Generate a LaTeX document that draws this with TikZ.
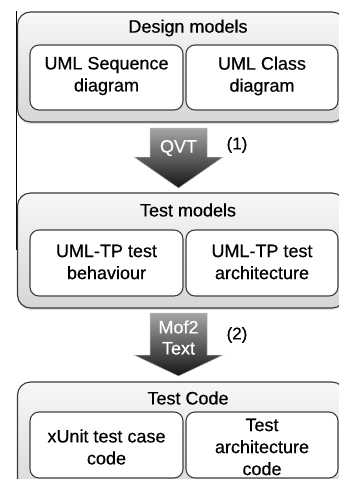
\documentclass[tikz,border=0pt]{standalone}
\usepackage{fontspec}
\setmainfont{Liberation Sans}[FakeBold=0.45]
\usetikzlibrary{shadows}
\tikzset{
  groupbox/.style={draw=gray!45!black, line width=1.1pt, rounded corners=13pt,
    top color=gray!6, bottom color=gray!32,
    drop shadow={opacity=0.25, shadow xshift=0pt, shadow yshift=-2pt}},
  modelbox/.style={draw=gray!50!black, line width=1.1pt, rounded corners=9pt,
    fill=white, align=center, inner sep=0pt},
  title/.style={font=\fontsize{18}{22}\selectfont},
  bodytext/.style={font=\fontsize{18}{22}\selectfont, align=center},
  flowarrow/.style={top color=gray!70, bottom color=black!92, draw=gray!55, line width=0.5pt},
  arrowtext/.style={text=white, font=\fontsize{18}{21}\selectfont, align=center},
  steplabel/.style={font=\fontsize{17}{20}\selectfont}
}
\begin{document}
\begin{tikzpicture}[x=1pt,y=-1pt]
\useasboundingbox (0,0) rectangle (339,479);
\clip (0,0) rectangle (339,479);

% margin rule on the left
\coordinate (ruletop) at (16,11);
\coordinate (rulebot) at (16,250);
\draw[line width=1pt] (ruletop) -- (rulebot);

% Design models
\node[groupbox, minimum width=327.5pt, minimum height=110pt] (design) at (181.25,67) {};
\node[title] (designT) at (188,28) {Design models};
\node[modelbox, minimum width=153pt, minimum height=65pt] (seq) at (106.5,77.5) {};
\node[bodytext] (seqT) at (106.5,76) {UML Sequence\\diagram};
\node[modelbox, minimum width=152pt, minimum height=65pt] (cls) at (262,77.5) {};
\node[bodytext] (clsT) at (262,76) {UML Class\\diagram};

% Test models
\node[groupbox, minimum width=327.5pt, minimum height=115pt] (test) at (181.25,250.5) {};
\node[title] (testT) at (188,210) {Test models};
\node[modelbox, minimum width=153pt, minimum height=66pt] (beh) at (106.5,263) {};
\node[bodytext] (behT) at (106.5,262) {UML-TP test\\behaviour};
\node[modelbox, minimum width=152pt, minimum height=66pt] (arch) at (262,263) {};
\node[bodytext] (archT) at (262,262) {UML-TP test\\architecture};

% Test Code
\node[groupbox, minimum width=327.5pt, minimum height=120pt] (code) at (181.25,442) {};
\node[title] (codeT) at (188,398) {Test Code};
\node[modelbox, minimum width=153pt, minimum height=66pt] (unit) at (106.5,445) {};
\node[bodytext] (unitT) at (106.5,447) {xUnit test case\\code};
\node[modelbox, minimum width=152pt, minimum height=66pt] (tarch) at (262,445) {};
\node[bodytext] (tarchT) at (262,447) {Test\\architecture\\code};

% transformation (1): QVT
\path[flowarrow] (150,128) -- (207,128) -- (207,157) -- (223,157) -- (178.5,188)
  -- (134,157) -- (150,157) -- cycle;
\node[arrowtext] (qvt) at (178.5,148) {QVT};
\node[steplabel] (s1) at (237,145) {(1)};

% transformation (2): Mof2Text
\path[flowarrow] (150,313) -- (207,313) -- (207,355) -- (223,355) -- (178.5,376)
  -- (134,355) -- (150,355) -- cycle;
\node[arrowtext] (m2t) at (178.5,337.5) {Mof2\\Text};
\node[steplabel] (s2) at (237,335) {(2)};
\end{tikzpicture}
\end{document}
